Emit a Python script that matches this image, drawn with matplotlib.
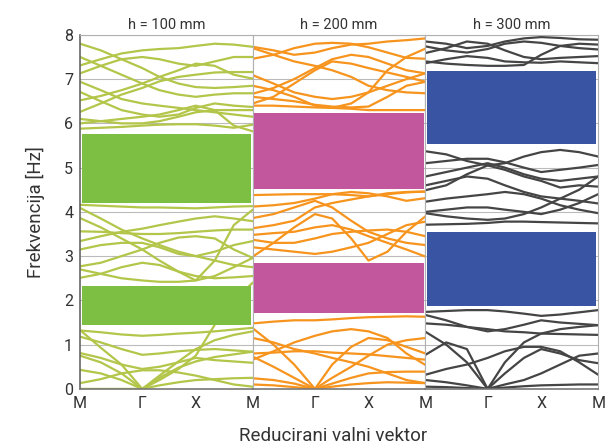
import matplotlib
matplotlib.use("Agg")
import matplotlib.pyplot as plt

plt.rcParams['font.family'] = ['Roboto', 'DejaVu Sans']

# Točke na putu M - Γ - X - M (udio širine panela)
k_put = [0, .12, .24, .36, .46, .57, .67, .78, .89, 1.0]
k_oznake = ['M', 'Γ', 'X', 'M']
k_polozaj = [0, 0.36, 0.67, 1.0]

naslovi = ['h = 100 mm', 'h = 200 mm', 'h = 300 mm']

# Zabranjene zone (donja, gornja granica) [Hz]
zone_100 = [(1.45, 2.33), (4.21, 5.75)]
zone_200 = [(1.71, 2.85), (4.52, 6.24)]
zone_300 = [(1.87, 3.55), (5.53, 7.19)]

# Disperzijske krivulje, h = 100 mm
vrpce_100 = [
    [1.32, 1.28, 1.23, 1.20, 1.22, 1.25, 1.27, 1.30, 1.34, 1.38],
    [1.33, 0.93, 0.55, 0.00, 0.20, 0.45, 0.75, 1.45, 2.00, 2.40],
    [0.75, 0.60, 0.35, 0.00, 0.25, 0.48, 0.62, 0.72, 0.78, 0.84],
    [0.13, 0.22, 0.35, 0.42, 0.42, 0.37, 0.30, 0.20, 0.10, 0.05],
    [0.43, 0.35, 0.20, 0.00, 0.08, 0.15, 0.20, 0.22, 0.24, 0.25],
    [1.18, 1.05, 0.90, 0.77, 0.80, 0.85, 0.88, 0.90, 0.87, 0.84],
    [0.81, 0.70, 0.55, 0.45, 0.50, 0.60, 0.70, 0.65, 0.62, 0.59],
    [0.00, 0.00, 0.00, 0.00, 0.30, 0.62, 0.90, 1.10, 1.22, 1.30],
    [4.16, 4.14, 4.12, 4.10, 4.10, 4.09, 4.08, 4.10, 4.12, 4.13],
    [4.09, 3.85, 3.60, 3.40, 3.25, 3.10, 3.00, 2.90, 2.80, 2.75],
    [3.86, 3.65, 3.40, 3.15, 2.90, 2.65, 2.45, 2.90, 3.70, 4.05],
    [3.56, 3.55, 3.52, 3.50, 3.50, 3.52, 3.55, 3.58, 3.60, 3.60],
    [3.34, 3.45, 3.55, 3.62, 3.70, 3.78, 3.85, 3.90, 3.85, 3.79],
    [3.15, 3.25, 3.30, 3.30, 3.20, 3.05, 3.00, 3.10, 3.25, 3.34],
    [2.77, 2.85, 3.00, 3.15, 3.30, 3.42, 3.45, 3.40, 3.15, 2.96],
    [2.51, 2.60, 2.75, 2.85, 2.80, 2.65, 2.55, 2.50, 2.52, 2.55],
    [2.70, 2.60, 2.50, 2.45, 2.42, 2.42, 2.45, 2.55, 2.75, 2.96],
    [7.80, 7.65, 7.45, 7.25, 7.05, 6.90, 6.82, 6.80, 6.82, 6.85],
    [7.31, 7.45, 7.58, 7.65, 7.68, 7.70, 7.75, 7.80, 7.78, 7.73],
    [7.50, 7.30, 7.10, 6.90, 6.75, 6.65, 6.60, 6.65, 6.68, 6.68],
    [7.13, 7.30, 7.45, 7.50, 7.45, 7.35, 7.30, 7.40, 7.50, 7.50],
    [6.94, 6.75, 6.55, 6.45, 6.40, 6.35, 6.30, 6.25, 6.20, 6.15],
    [6.52, 6.62, 6.75, 6.90, 7.05, 7.20, 7.35, 7.30, 7.10, 7.01],
    [6.26, 6.45, 6.65, 6.80, 6.95, 7.05, 7.10, 7.15, 7.16, 7.16],
    [6.71, 6.50, 6.30, 6.20, 6.15, 6.20, 6.35, 6.45, 6.40, 6.37],
    [6.00, 6.05, 6.10, 6.15, 6.20, 6.30, 6.40, 6.30, 5.95, 5.82],
    [5.88, 5.90, 5.92, 5.95, 5.97, 5.98, 5.98, 5.95, 5.90, 5.97],
    [6.10, 6.05, 6.00, 6.00, 6.05, 6.15, 6.25, 6.30, 6.30, 6.30],
]

# Disperzijske krivulje, h = 200 mm
vrpce_200 = [
    [1.48, 1.52, 1.55, 1.55, 1.57, 1.60, 1.62, 1.63, 1.64, 1.63],
    [1.37, 1.00, 0.55, 0.00, 0.55, 0.95, 1.15, 1.10, 0.95, 0.80],
    [0.66, 0.85, 1.05, 1.20, 1.30, 1.35, 1.30, 1.15, 0.80, 0.54],
    [0.73, 0.50, 0.25, 0.00, 0.25, 0.50, 0.75, 1.00, 1.10, 1.15],
    [0.24, 0.20, 0.12, 0.00, 0.12, 0.25, 0.35, 0.38, 0.39, 0.39],
    [0.80, 0.82, 0.85, 0.85, 0.82, 0.80, 0.78, 0.74, 0.70, 0.66],
    [1.15, 1.05, 0.90, 0.80, 0.70, 0.60, 0.50, 0.35, 0.20, 0.13],
    [0.10, 0.08, 0.04, 0.00, 0.05, 0.10, 0.13, 0.15, 0.14, 0.13],
    [4.38, 4.39, 4.40, 4.40, 4.40, 4.38, 4.35, 4.40, 4.44, 4.46],
    [4.12, 4.15, 4.20, 4.30, 4.40, 4.45, 4.42, 4.35, 4.25, 4.31],
    [3.86, 3.95, 4.10, 4.25, 4.10, 3.80, 3.55, 3.40, 3.30, 3.25],
    [3.63, 3.70, 3.80, 4.10, 4.20, 4.28, 4.35, 4.42, 4.45, 4.46],
    [3.48, 3.52, 3.55, 3.65, 3.70, 3.60, 3.45, 3.30, 3.15, 2.99],
    [3.37, 3.30, 3.30, 3.40, 3.50, 3.55, 3.58, 3.60, 3.55, 3.45],
    [2.99, 3.30, 3.65, 3.95, 3.85, 3.40, 2.90, 3.10, 3.55, 3.90],
    [3.20, 3.15, 3.10, 3.05, 3.10, 3.20, 3.30, 3.50, 3.70, 3.78],
    [7.73, 7.65, 7.55, 7.60, 7.70, 7.78, 7.80, 7.85, 7.88, 7.92],
    [7.46, 7.55, 7.70, 7.80, 7.82, 7.80, 7.72, 7.60, 7.48, 7.46],
    [7.70, 7.55, 7.40, 7.30, 7.20, 7.05, 6.85, 6.75, 6.70, 6.68],
    [7.09, 6.90, 6.70, 6.60, 6.55, 6.60, 6.70, 6.85, 7.00, 7.13],
    [6.67, 6.80, 7.00, 7.25, 7.45, 7.55, 7.50, 7.35, 7.20, 7.13],
    [6.45, 6.60, 6.90, 7.20, 7.40, 7.35, 7.25, 7.15, 7.05, 6.94],
    [6.60, 6.55, 6.50, 6.42, 6.38, 6.36, 6.38, 6.60, 6.85, 6.94],
    [6.40, 6.40, 6.38, 6.36, 6.35, 6.33, 6.30, 6.30, 6.30, 6.30],
    [6.85, 6.75, 6.60, 6.40, 6.35, 6.45, 6.70, 7.20, 7.50, 7.69],
]

# Disperzijske krivulje, h = 300 mm
vrpce_300 = [
    [1.74, 1.76, 1.78, 1.78, 1.75, 1.70, 1.65, 1.68, 1.73, 1.78],
    [1.67, 1.55, 1.40, 1.30, 1.35, 1.45, 1.55, 1.50, 1.47, 1.44],
    [1.48, 1.45, 1.40, 1.35, 1.30, 1.28, 1.25, 1.24, 1.23, 1.22],
    [0.77, 1.05, 0.90, 0.00, 0.60, 1.05, 1.25, 1.35, 1.40, 1.44],
    [1.29, 1.00, 0.60, 0.00, 0.35, 0.70, 0.90, 0.80, 0.65, 0.58],
    [0.32, 0.45, 0.55, 0.70, 0.85, 0.95, 0.95, 0.85, 0.60, 0.32],
    [0.20, 0.15, 0.08, 0.00, 0.10, 0.20, 0.35, 0.55, 0.75, 0.80],
    [0.05, 0.04, 0.02, 0.00, 0.03, 0.06, 0.08, 0.09, 0.10, 0.10],
    [5.37, 5.30, 5.15, 5.05, 5.10, 5.25, 5.35, 5.40, 5.35, 5.25],
    [5.10, 5.15, 5.20, 5.20, 5.12, 5.00, 4.90, 4.95, 5.00, 5.06],
    [4.80, 4.90, 5.00, 5.10, 5.00, 4.85, 4.75, 4.70, 4.75, 4.80],
    [4.49, 4.60, 4.85, 5.05, 4.95, 4.80, 4.70, 4.55, 4.60, 4.57],
    [4.60, 4.70, 4.80, 4.75, 4.60, 4.45, 4.35, 4.30, 4.25, 4.19],
    [4.23, 4.30, 4.35, 4.40, 4.45, 4.40, 4.30, 4.15, 4.05, 3.97],
    [4.00, 4.05, 4.10, 4.10, 4.05, 4.00, 3.95, 4.05, 4.20, 4.40],
    [3.71, 3.72, 3.73, 3.75, 3.78, 3.78, 3.77, 3.76, 3.75, 3.74],
    [3.97, 3.90, 3.85, 3.82, 3.85, 3.95, 4.10, 4.30, 4.50, 4.80],
    [7.85, 7.80, 7.70, 7.75, 7.85, 7.92, 7.95, 7.93, 7.90, 7.89],
    [7.74, 7.65, 7.60, 7.68, 7.80, 7.85, 7.82, 7.75, 7.70, 7.67],
    [7.59, 7.70, 7.85, 7.80, 7.65, 7.50, 7.45, 7.48, 7.50, 7.52],
    [7.36, 7.45, 7.52, 7.48, 7.40, 7.38, 7.37, 7.40, 7.38, 7.36],
    [7.40, 7.35, 7.32, 7.30, 7.30, 7.32, 7.55, 7.75, 7.80, 7.78],
]

paneli = [
    (vrpce_100, zone_100, '#b3c64a', '#7cbf42'),
    (vrpce_200, zone_200, '#f7941e', '#c2579e'),
    (vrpce_300, zone_300, '#454545', '#3a54a4'),
]

fig, axes = plt.subplots(1, 3, figsize=(6.11, 4.47), dpi=100, sharey=True)
fig.subplots_adjust(left=0.131, right=0.979, top=0.922, bottom=0.130, wspace=0)

for i, (ax, (vrpce, zone, boja_l, boja_z)) in enumerate(zip(axes, paneli)):
    for v in vrpce:
        ax.plot(k_put, v, color=boja_l, lw=1.6, zorder=2, solid_capstyle='round')
    for lo, hi in zone:
        ax.axhspan(lo, hi, xmin=0.01, xmax=0.99, color=boja_z, lw=0, zorder=3)
    ax.set_xlim(0, 1)
    ax.set_ylim(0, 8)
    ax.set_yticks(range(0, 9))
    ax.grid(True, axis='y', color='#bbbbbb', lw=0.8, zorder=0)
    ax.set_title(naslovi[i], fontsize=10.5, color='#333333', pad=4)
    ax.set_xticks(k_polozaj)
    if i == 0:
        ax.set_xticklabels(k_oznake)
    else:
        ax.set_xticklabels([''] + k_oznake[1:])
    ax.tick_params(axis='both', length=0, labelsize=11.5, colors='#333333', pad=5)
    for s in ax.spines.values():
        s.set_color('#b0b0b0')
        s.set_linewidth(0.8)
    ax.spines['bottom'].set_color('#777777')
    ax.spines['bottom'].set_linewidth(1.2)

axes[0].spines['left'].set_color('#666666')
axes[0].spines['left'].set_linewidth(1.2)
axes[0].set_ylabel('Frekvencija [Hz]', fontsize=13.5, color='#333333', labelpad=14)
fig.text(0.545, 0.005, 'Reducirani valni vektor', ha='center', va='bottom',
         fontsize=13.5, color='#333333')

plt.savefig('out.png', dpi=100)
